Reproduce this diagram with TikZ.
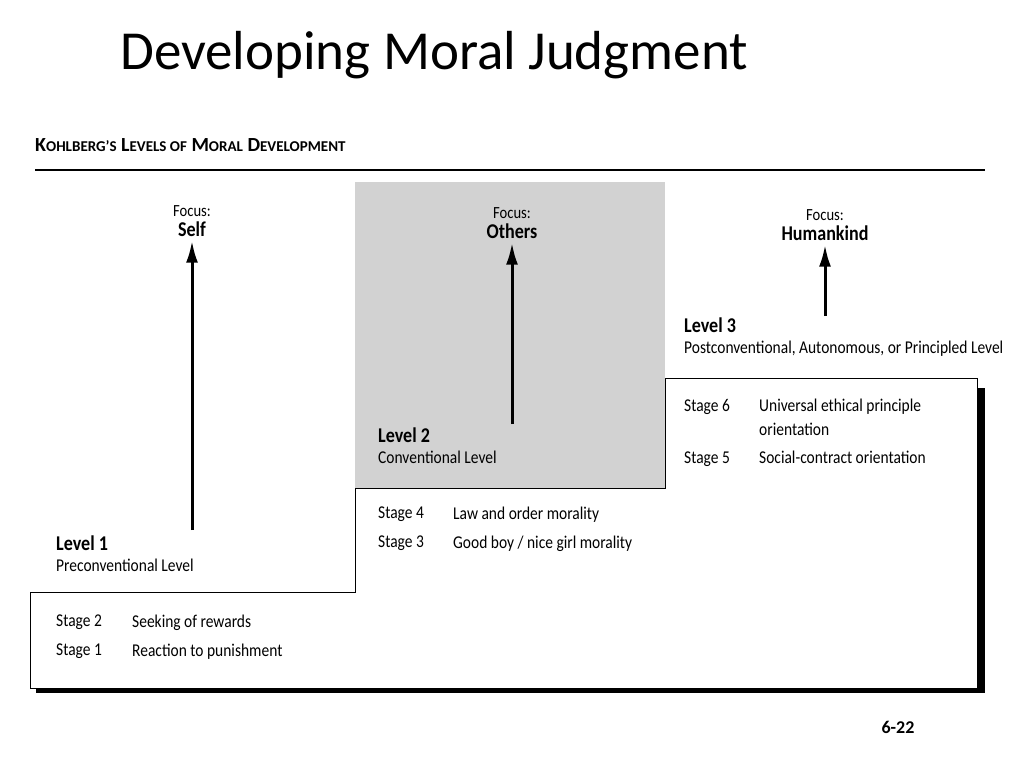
\documentclass[tikz,border=0pt]{standalone}
\usepackage{fontspec}
\setmainfont{Carlito}
\newfontfamily\narrow[FakeStretch=0.86]{Carlito}
\usetikzlibrary{positioning,arrows.meta}
\begin{document}
\begin{tikzpicture}[x=1pt,y=-1pt,
    every node/.style={inner sep=0pt,align=left},
    focus/.style={align=center,font=\narrow\fontsize{17}{20}\selectfont},
    lvl/.style={anchor=north west,font=\narrow\fontsize{18}{21}\selectfont},
    stage/.style={anchor=north west,font=\narrow\fontsize{18}{29}\selectfont},
    up/.style={-{Latex[length=22pt,width=12pt]},line width=3pt}]
  \useasboundingbox (0,0) rectangle (1024,768);
  % title and heading
  \node[anchor=base west,font=\fontsize{55}{60}\selectfont] (title) at (120,70) {Developing Moral Judgment};
  \node[anchor=base west,font=\bfseries\fontsize{20}{22}\selectfont] (head) at (35,151)
    {K{\fontsize{15}{17}\selectfont OHLBERG'S} L{\fontsize{15}{17}\selectfont EVELS OF} M{\fontsize{15}{17}\selectfont ORAL} D{\fontsize{15}{17}\selectfont EVELOPMENT}};
  \draw[line width=1.5pt] (35,170) -- (985,170);
  % shaded level 2 panel
  \fill[gray!35] (355,182) rectangle (665,488);
  % staircase with shadow
  \fill[black] (972,388) rectangle (985,693);
  \fill[black] (36,686) rectangle (985,693);
  \draw[fill=white,line width=1pt] (30,592) -- (355,592) -- (355,488) -- (665,488)
    -- (665,378) -- (977,378) -- (977,688) -- (30,688) -- cycle;
  % focus labels and arrows
  \node[focus] (fself) at (192,221) {Focus:\\\textbf{\fontsize{21}{24}\selectfont Self}};
  \node[focus] (fothers) at (512,223) {Focus:\\\textbf{\fontsize{21}{24}\selectfont Others}};
  \node[focus] (fhuman) at (825,225) {Focus:\\\textbf{\fontsize{21}{24}\selectfont Humankind}};
  \coordinate (a1) at (192,530);
  \coordinate (a2) at (512,424);
  \coordinate (a3) at (825,316);
  \draw[up] (a1) -- ([yshift=-4pt]fself.south);
  \draw[up] (a2) -- ([yshift=-4pt]fothers.south);
  \draw[up] (a3) -- ([yshift=-4pt]fhuman.south);
  % level labels
  \node[lvl] (lv1) at (56,536) {\textbf{\fontsize{21}{23}\selectfont Level 1}\\Preconventional Level};
  \node[lvl] (lv2) at (378,428) {\textbf{\fontsize{21}{23}\selectfont Level 2}\\Conventional Level};
  \node[lvl] (lv3) at (684,318) {\textbf{\fontsize{21}{23}\selectfont Level 3}\\Postconventional, Autonomous, or Principled Level};
  % stages
  \node[stage] (s1) at (56,615) {Stage 2\\Stage 1};
  \node[stage] (d1) at (132,615) {Seeking of rewards\\Reaction to punishment};
  \node[stage] (s2) at (378,507) {Stage 4\\Stage 3};
  \node[stage] (d2) at (453,507) {Law and order morality\\Good boy / nice girl morality};
  \node[stage,font=\narrow\fontsize{18}{24}\selectfont] (s3) at (684,399) {Stage 6\\[28pt]Stage 5};
  \node[stage,font=\narrow\fontsize{18}{24}\selectfont] (d3) at (759,399) {Universal ethical principle\\orientation\\[4pt]Social-contract orientation};
  \node[anchor=base,font=\bfseries\fontsize{18}{20}\selectfont] (page) at (898,733) {6-22};
\end{tikzpicture}
\end{document}
